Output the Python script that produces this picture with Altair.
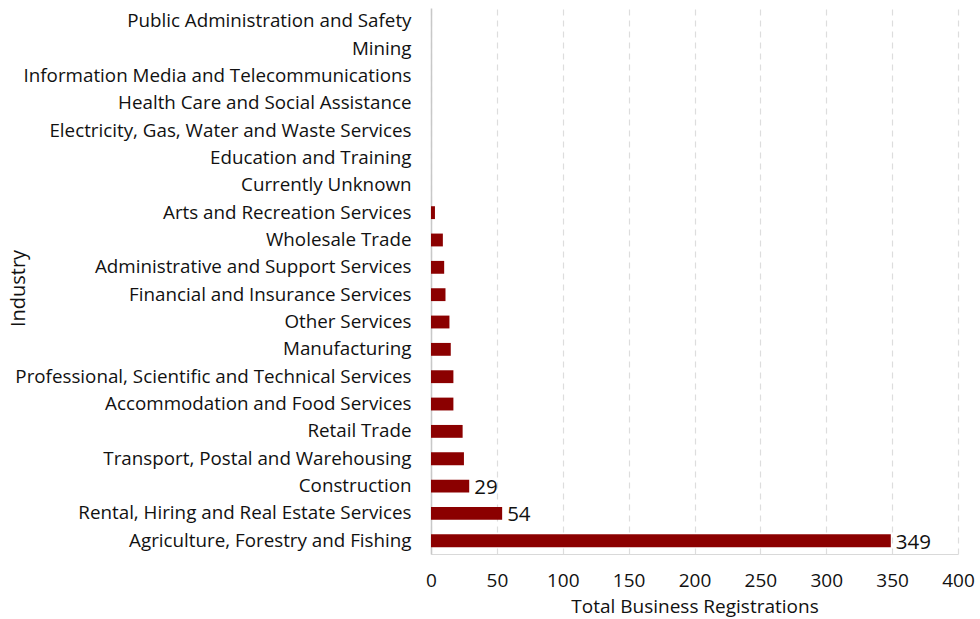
import altair as alt
import pandas as pd

industries = [
    "Public Administration and Safety",
    "Mining",
    "Information Media and Telecommunications",
    "Health Care and Social Assistance",
    "Electricity, Gas, Water and Waste Services",
    "Education and Training",
    "Currently Unknown",
    "Arts and Recreation Services",
    "Wholesale Trade",
    "Administrative and Support Services",
    "Financial and Insurance Services",
    "Other Services",
    "Manufacturing",
    "Professional, Scientific and Technical Services",
    "Accommodation and Food Services",
    "Retail Trade",
    "Transport, Postal and Warehousing",
    "Construction",
    "Rental, Hiring and Real Estate Services",
    "Agriculture, Forestry and Fishing",
]
registrations = [0, 0, 0, 0, 0, 0, 0, 3, 9, 10, 11, 14, 15, 17, 17, 24, 25, 29, 54, 349]
labels = ["", "", "", "", "", "", "", "", "", "", "", "", "", "", "", "", "", "29", "54", "349"]

df = pd.DataFrame({"Industry": industries, "Total": registrations, "Label": labels})

FONT = "Open Sans"

y_enc = alt.Y(
    "Industry:N",
    sort=industries,
    title="Industry",
    scale=alt.Scale(paddingInner=0.53, paddingOuter=0.25),
    axis=alt.Axis(
        labelFontSize=18.8, labelFont=FONT, labelColor="#111111", labelPadding=20,
        ticks=False, domainColor="#c8c8c8", domainWidth=1.5, labelLimit=450,
        titleFont=FONT, titleFontSize=20, titleFontWeight="normal", titleColor="#111111",
        titleX=-413, titleY=280, titleAngle=-90, titleAlign="center", titleBaseline="middle",
    ),
)
x_enc = alt.X(
    "Total:Q",
    title="Total Business Registrations",
    scale=alt.Scale(domain=[0, 400], nice=False),
    axis=alt.Axis(
        values=[0, 50, 100, 150, 200, 250, 300, 350, 400],
        labelFontSize=19, labelFont=FONT, labelColor="#111111", labelPadding=17,
        labelFlush=False, labelOverlap=False,
        ticks=False, domain=True, domainColor="#d9d9d9", domainWidth=1.2,
        grid=True, gridDash=[6, 5], gridColor="#dddddd", gridWidth=1.2,
        titleFont=FONT, titleFontSize=19, titleFontWeight="normal", titleColor="#111111",
        titlePadding=7,
    ),
)

bars = alt.Chart(df).mark_bar(color="#8b0000").encode(x=x_enc, y=y_enc)
text = alt.Chart(df).mark_text(
    align="left", baseline="middle", dx=5, dy=2, fontSize=20.5, font=FONT, color="#111111"
).encode(x="Total:Q", y=alt.Y("Industry:N", sort=industries), text="Label:N")

chart = (bars + text).properties(
    width=527, height=546,
    autosize=alt.AutoSizeParams(type="none"),
    padding={"left": 431, "top": 8, "right": 22, "bottom": 65},
    background="white",
).configure_view(stroke=None)

chart.save("out.html", embed_options={"renderer": "svg", "actions": False})
